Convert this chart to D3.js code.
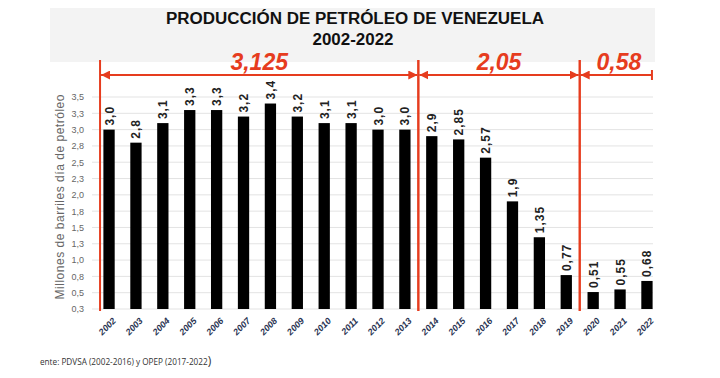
<!DOCTYPE html>
<html>
<head>
<meta charset="utf-8">
<script src="https://cdn.jsdelivr.net/npm/d3@7"></script>
<style>
  body { margin: 0; background: #fff; }
  svg { display: block; font-family: "Liberation Sans", Arial, sans-serif; }
</style>
</head>
<body>
<svg id="chart" width="720" height="378"></svg>
<script>
"use strict";

// datos
var years = ["2002","2003","2004","2005","2006","2007","2008","2009","2010","2011","2012",
  "2013","2014","2015","2016","2017","2018","2019","2020","2021","2022"];
var production = [3.0, 2.8, 3.1, 3.3, 3.3, 3.2, 3.4, 3.2, 3.1, 3.1, 3.0,
  3.0, 2.9, 2.85, 2.57, 1.9, 1.35, 0.77, 0.51, 0.55, 0.68];
var barLabels = ["3,0","2,8","3,1","3,3","3,3","3,2","3,4","3,2","3,1","3,1","3,0",
  "3,0","2,9","2,85","2,57","1,9","1,35","0,77","0,51","0,55","0,68"];
var yTicks = [0.25, 0.5, 0.75, 1.0, 1.25, 1.5, 1.75, 2.0, 2.25, 2.5, 2.75, 3.0, 3.25, 3.5];
var yTickLabels = ["0,3","0,5","0,8","1,0","1,3","1,5","1,8","2,0","2,3","2,5","2,8","3,0","3,3","3,5"];
var periodLabels = ["3,125", "2,05", "0,58"];
var periodStart = ["2002", "2014", "2020"];
var periodEnd = ["2013", "2019", "2022"];

var RED = "#e63c1e";

var svg = d3.select("#chart");

var x = d3.scaleBand()
  .domain(years)
  .range([96, 660])
  .paddingInner(0.58)
  .paddingOuter(0.275);

var y = d3.scaleLinear()
  .domain([0.25, 3.5])
  .range([309, 97]);

//fondo del título
svg.append("rect")
  .attr("x", 50).attr("y", 8)
  .attr("width", 605).attr("height", 54)
  .attr("fill", "#f3f3f3");

svg.append("text")
  .attr("x", 355).attr("y", 24)
  .attr("text-anchor", "middle")
  .attr("font-size", 16).attr("font-weight", "bold")
  .attr("textLength", 378).attr("lengthAdjust", "spacingAndGlyphs")
  .attr("fill", "#111")
  .text("PRODUCCIÓN DE PETRÓLEO DE VENEZUELA");

svg.append("text")
  .attr("x", 353).attr("y", 44.5)
  .attr("text-anchor", "middle")
  .attr("font-size", 16).attr("font-weight", "bold")
  .attr("textLength", 81).attr("lengthAdjust", "spacingAndGlyphs")
  .attr("fill", "#111")
  .text("2002-2022");

// rejilla
svg.append("g")
  .selectAll("line")
  .data(yTicks)
  .join("line")
  .attr("x1", 92).attr("x2", 653)
  .attr("y1", function(d) { return y(d); })
  .attr("y2", function(d) { return y(d); })
  .attr("stroke", "#e3e3e3")
  .attr("stroke-width", 1);

// eje y
var yAxis = d3.axisLeft(y)
  .tickValues(yTicks)
  .tickSize(0)
  .tickPadding(0)
  .tickFormat(function(d, i) { return yTickLabels[i]; });

var gy = svg.append("g")
  .attr("transform", "translate(84,0)")
  .call(yAxis);
gy.select(".domain").remove();
gy.selectAll("text")
  .attr("font-size", 9)
  .attr("font-family", "'Liberation Sans Narrow', 'Liberation Sans', sans-serif")
  .attr("fill", "#666");

svg.append("text")
  .attr("transform", "translate(64,197) rotate(-90)")
  .attr("text-anchor", "middle")
  .attr("font-size", 12)
  .attr("textLength", 205).attr("lengthAdjust", "spacing")
  .attr("fill", "#666")
  .text("Millones de barriles día de petróleo");

// barras
svg.append("g")
  .selectAll("rect")
  .data(production)
  .join("rect")
  .attr("x", function(d, i) { return x(years[i]); })
  .attr("width", x.bandwidth())
  .attr("y", function(d) { return y(d); })
  .attr("height", function(d) { return y(0.25) - y(d); })
  .attr("fill", "#000");

svg.append("g")
  .selectAll("text")
  .data(production)
  .join("text")
  .attr("transform", function(d, i) {
    return "translate(" + (x(years[i]) + x.bandwidth() / 2 + 4.5) + "," + (y(d) - 4) + ") rotate(-90)";
  })
  .attr("font-size", 12).attr("font-weight", "bold")
  .attr("letter-spacing", 1)
  .attr("fill", "#222")
  .text(function(d, i) { return barLabels[i]; });

// eje x
var xAxis = d3.axisBottom(x).tickSize(0).tickPadding(0);
var gx = svg.append("g")
  .attr("transform", "translate(0,315)")
  .call(xAxis);
gx.select(".domain").remove();
gx.selectAll("text")
  .attr("font-size", 9)
  .attr("font-weight", "bold")
  .attr("font-style", "italic")
  .attr("fill", "#2b3553")
  .attr("text-anchor", "end")
  .attr("dy", "0.7em")
  .attr("transform", "translate(3,2) rotate(-45)");

// periodos
var step = x.step();
var edges = periodStart.map(function(s, i) {
  var left = i === 0 ? x(s) + x.bandwidth() / 2 - 9 : x(s) - step * x.paddingInner() / 2;
  var last = periodEnd[i];
  var right = i === periodEnd.length - 1 ? x(last) + x.bandwidth() / 2 + 5
    : x(last) + x.bandwidth() + step * x.paddingInner() / 2;
  return { left: left, right: right, label: periodLabels[i], closed: i < periodEnd.length - 1 };
});

var defs = svg.append("defs");
defs.append("marker")
  .attr("id", "arrow")
  .attr("viewBox", "0 0 10 10")
  .attr("refX", 10).attr("refY", 5)
  .attr("markerWidth", 4.5).attr("markerHeight", 4.5)
  .attr("markerUnits", "strokeWidth")
  .attr("orient", "auto-start-reverse")
  .append("path")
  .attr("d", "M0,0 L10,5 L0,10 z")
  .attr("fill", RED);

var ann = svg.append("g");
edges.forEach(function(e) {
  ann.append("line")
    .attr("x1", e.left).attr("x2", e.left)
    .attr("y1", 60).attr("y2", 311)
    .attr("stroke", RED).attr("stroke-width", 2);
  if (e.closed) {
    ann.append("line")
      .attr("x1", e.right).attr("x2", e.right)
      .attr("y1", 60).attr("y2", 311)
      .attr("stroke", RED).attr("stroke-width", 2);
  } else {
    ann.append("line")
      .attr("x1", e.right).attr("x2", e.right)
      .attr("y1", 70).attr("y2", 80)
      .attr("stroke", RED).attr("stroke-width", 2);
  }
  ann.append("line")
    .attr("x1", e.left + 1).attr("x2", e.closed ? e.right - 1 : e.right)
    .attr("y1", 75).attr("y2", 75)
    .attr("stroke", RED).attr("stroke-width", 2)
    .attr("marker-start", "url(#arrow)")
    .attr("marker-end", e.closed ? "url(#arrow)" : null);
  ann.append("text")
    .attr("x", (e.left + e.right) / 2 + (e.closed ? 0 : 3))
    .attr("y", 70)
    .attr("text-anchor", "middle")
    .attr("font-size", 23).attr("font-weight", "bold").attr("font-style", "italic")
    .attr("fill", RED)
    .text(e.label);
});

// fuente
var src = svg.append("text")
  .attr("x", 40).attr("y", 365)
  .attr("font-size", 8.2)
  .attr("font-family", "'Open Sans', sans-serif")
  .attr("fill", "#333");
src.append("tspan").text("ente: PDVSA (2002-2016) y OPEP (2017-2022");
src.append("tspan").attr("font-size", 12).text(")");
</script>
</body>
</html>
